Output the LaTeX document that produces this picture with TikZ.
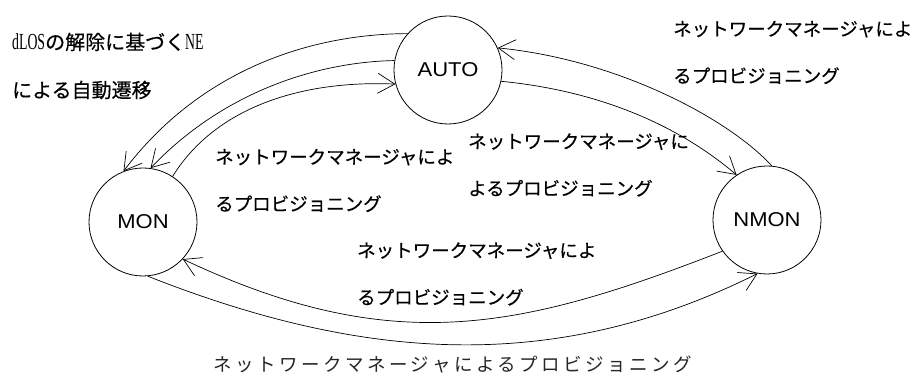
\documentclass[tikz,border=0pt]{standalone}
\usepackage{fontspec}
\setmainfont{Liberation Sans}
\newfontfamily\jp{Noto Sans CJK JP}[FakeBold=0.4]
\newfontfamily\jpsp{Noto Sans CJK JP}[LetterSpace=19]
\newfontfamily\ser{Liberation Serif}[FakeStretch=0.6]
\newfontfamily\nodefont{Liberation Sans}[FakeStretch=1.1]
\usetikzlibrary{arrows.meta}
\begin{document}
\begin{tikzpicture}[x=1pt,y=-1pt,
 state/.style={draw, circle, minimum size=108pt, inner sep=0pt, line width=0.8pt, font=\nodefont\fontsize{20}{24}\selectfont},
 edge/.style={line width=0.7pt, -{Straight Barb[length=17pt,width=20pt]}},
 lbl/.style={anchor=west, inner sep=0pt, align=left, font=\jp\fontsize{18.5}{47}\selectfont}]
\useasboundingbox[fill=white] (0,0) rectangle (919,379);
\node[state] (auto) at (448,70) {AUTO};
\node[state] (mon) at (143,222) {MON};
\node[state] (nmon) at (767,220) {NMON};
\draw[edge] (auto.138) .. controls (310,34) and (200,70) .. (mon.111);
\draw[edge] (auto.170) .. controls (320,62) and (225,90) .. (mon.82);
\draw[edge] (mon.57) .. controls (215,108) and (300,80) .. (auto.195);
\draw[edge] (auto.-12) .. controls (570,88) and (660,110) .. (nmon.124);
\draw[edge] (nmon.85) .. controls (730,120) and (620,60) .. (auto.24);
\draw[edge] (nmon.215) .. controls (520,330) and (392,358) .. (mon.-43);
\draw[edge] (mon.-85) .. controls (360,360) and (552,376) .. (nmon.260);
\node[lbl, font=\jp\fontsize{20}{48}\selectfont] (lf) at (12,66) {{\ser\fontsize{23}{48}\selectfont dLOS}の解除に基づく{\ser\fontsize{23}{48}\selectfont NE}\\による自動遷移};
\node[lbl] (la) at (215,180.5) {ネットワークマネージャによ\\るプロビジョニング};
\node[lbl] (lb) at (468,165) {ネットワークマネージャに\\よるプロビジョニング};
\node[lbl] (lc) at (673,52.5) {ネットワークマネージャによ\\るプロビジョニング};
\node[lbl] (ld) at (357,274) {ネットワークマネージャによ\\るプロビジョニング};
\node[lbl, font=\jpsp\fontsize{18.5}{22}\selectfont, text=black!85] (le) at (213,365) {ネットワークマネージャによるプロビジョニング};
\end{tikzpicture}
\end{document}
